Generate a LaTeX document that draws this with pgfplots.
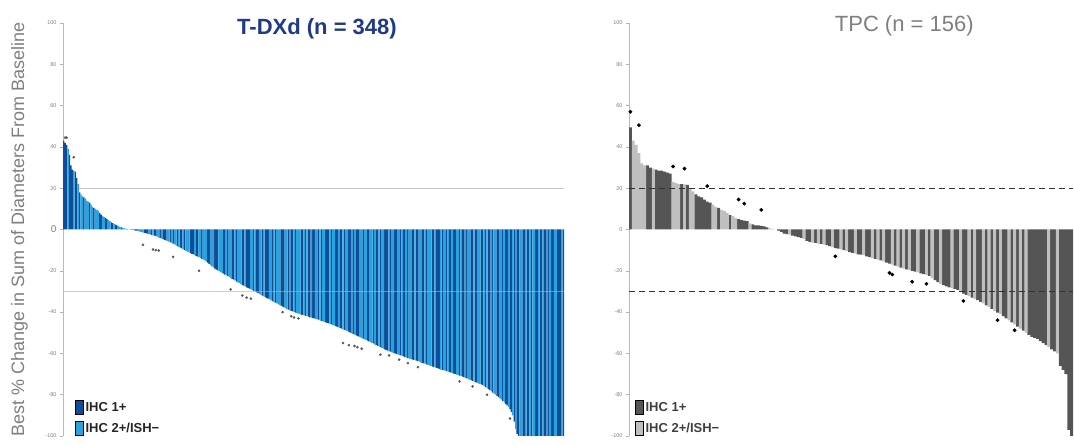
\documentclass[border=0pt]{standalone}
\usepackage{fontspec}
\setmainfont{Liberation Sans}
\usepackage{pgfplots}
\usepackage{pgfplotstable}
\pgfplotsset{compat=1.18}
\definecolor{dkblue}{HTML}{0F4D99}
\definecolor{ltblue}{HTML}{27A4E0}
\definecolor{navy}{HTML}{1F3A87}
\definecolor{dkgray}{HTML}{555555}
\definecolor{ltgray}{HTML}{BFBFBF}
\definecolor{lblgray}{HTML}{7F7F7F}
\pgfplotsset{
  grp1/.style={restrict expr to domain={\thisrow{g}}{0.5:1.5}},
  grp2/.style={restrict expr to domain={\thisrow{g}}{1.5:2.5}},
  wf/.style={
    scale only axis, ymin=-100, ymax=100, ytick={-100,-80,...,100},
    enlargelimits=false, axis y line*=left, axis x line=none, xtick=\empty,
    axis line style={draw=gray!55, line width=0.6pt},
    ytick style={draw=gray!60, line width=0.4pt},
    tick align=outside, major tick length=3pt,
    yticklabel style={font=\fontsize{5.5}{6}\selectfont, text=lblgray},
    /pgf/number format/assume math mode=true,
    legend image code/.code={\fill[##1] (0pt,-7pt) rectangle (8pt,7pt);},
    legend cell align=left,
  }
}
\pgfplotstableread[row sep=\\]{
v g\\
43 1\\ 42 1\\ 41 1\\ 39 2\\ 36 1\\ 31 1\\ 29 1\\ 28.5 2\\ 28 1\\ 25 1\\
22 2\\ 18 1\\ 17 2\\ 16 2\\ 15.5 1\\ 15 2\\ 14 2\\ 13.5 2\\ 13 1\\ 12 2\\
11 2\\ 10.5 1\\ 10 2\\ 9.5 2\\ 9 2\\ 8 1\\ 7.2 1\\ 6.6 2\\ 6 2\\ 5.6 1\\
5 1\\ 4.5 2\\ 4 2\\ 3.5 1\\ 3.1 1\\ 2.7 2\\ 2.3 1\\ 2 1\\ 1.7 2\\ 1.3 2\\
1 1\\ 0.8 2\\ 0.6 2\\ 0.4 2\\ 0.2 1\\ 0.1 2\\ 0 1\\ -0.1 1\\ -0.2 2\\ -0.3 1\\
-0.5 1\\ -0.6 1\\ -0.8 2\\ -1 1\\ -1.2 2\\ -1.4 2\\ -1.6 1\\ -1.8 1\\ -2 1\\ -2.2 2\\
-2.4 2\\ -2.6 1\\ -2.8 2\\ -3 1\\ -3.2 1\\ -3.5 2\\ -3.8 2\\ -4.1 1\\ -4.4 2\\ -4.7 1\\
-5 1\\ -5.3 1\\ -5.6 2\\ -5.9 2\\ -6.2 1\\ -6.4 2\\ -6.8 1\\ -7.2 2\\ -7.6 2\\ -8 1\\
-8.4 2\\ -8.8 1\\ -9.2 1\\ -9.6 2\\ -10 1\\ -10.3 2\\ -10.7 2\\ -11 2\\ -11.4 1\\ -11.8 1\\
-12.1 1\\ -12.4 2\\ -12.8 1\\ -13.1 1\\ -13.4 2\\ -13.8 2\\ -14.2 1\\ -14.6 2\\ -15 2\\ -15.5 2\\
-16 1\\ -16.6 1\\ -17.2 2\\ -17.8 1\\ -18.4 2\\ -19 1\\ -19.4 1\\ -19.8 1\\ -20.2 2\\ -20.6 2\\
-21 2\\ -21.4 1\\ -21.8 1\\ -22.2 2\\ -22.6 1\\ -23 2\\ -23.4 2\\ -23.9 1\\ -24.3 1\\ -24.7 2\\
-25.2 1\\ -25.6 2\\ -26 2\\ -26.4 2\\ -26.8 1\\ -27.2 1\\ -27.6 2\\ -28 1\\ -28.3 1\\ -28.6 1\\
-29 2\\ -29.3 2\\ -29.7 1\\ -30 2\\ -30.4 1\\ -30.8 1\\ -31.2 2\\ -31.6 2\\ -32 1\\ -32.4 2\\
-32.8 1\\ -33.2 1\\ -33.5 1\\ -33.9 2\\ -34.3 2\\ -34.7 1\\ -35 2\\ -35.4 1\\ -35.8 2\\ -36.2 2\\
-36.5 2\\ -36.9 1\\ -37.3 1\\ -37.7 1\\ -38.1 2\\ -38.5 2\\ -38.8 1\\ -39.1 2\\ -39.4 1\\ -39.6 1\\
-39.9 2\\ -40.2 1\\ -40.5 2\\ -40.8 2\\ -41 2\\ -41.2 1\\ -41.4 1\\ -41.6 2\\ -41.8 1\\ -42 2\\
-42.2 1\\ -42.5 1\\ -42.7 2\\ -42.9 1\\ -43.1 1\\ -43.3 2\\ -43.5 2\\ -43.7 1\\ -44 2\\ -44.2 1\\
-44.5 2\\ -44.7 2\\ -45 1\\ -45.2 1\\ -45.5 1\\ -45.7 2\\ -46 1\\ -46.2 2\\ -46.5 2\\ -46.8 1\\
-47.1 1\\ -47.4 2\\ -47.7 1\\ -48 1\\ -48.3 2\\ -48.6 1\\ -48.9 2\\ -49.2 2\\ -49.5 1\\ -49.9 1\\
-50.3 2\\ -50.6 1\\ -50.9 2\\ -51.2 1\\ -51.6 1\\ -51.9 1\\ -52.2 2\\ -52.5 2\\ -52.9 1\\ -53.2 2\\
-53.5 2\\ -53.8 1\\ -54.2 1\\ -54.5 2\\ -54.9 2\\ -55.2 1\\ -55.6 2\\ -55.9 1\\ -56.3 1\\ -56.6 2\\
-57 1\\ -57.3 2\\ -57.7 2\\ -58 1\\ -58.3 1\\ -58.6 1\\ -59 2\\ -59.2 1\\ -59.5 2\\ -59.7 2\\
-60 1\\ -60.2 1\\ -60.5 2\\ -60.7 2\\ -61 1\\ -61.2 2\\ -61.5 1\\ -61.7 1\\ -62 2\\ -62.2 1\\
-62.5 2\\ -62.7 2\\ -62.9 1\\ -63.1 1\\ -63.3 2\\ -63.5 1\\ -63.8 1\\ -64 2\\ -64.3 2\\ -64.6 1\\
-64.8 1\\ -65 2\\ -65.3 1\\ -65.5 2\\ -65.8 2\\ -66 2\\ -66.3 1\\ -66.5 1\\ -66.8 2\\ -67 1\\
-67.3 1\\ -67.5 1\\ -67.8 2\\ -68 1\\ -68.2 2\\ -68.3 2\\ -68.6 1\\ -68.8 2\\ -69.1 1\\ -69.3 1\\
-69.5 2\\ -69.8 1\\ -70 1\\ -70.3 2\\ -70.5 2\\ -70.8 1\\ -71 2\\ -71.3 1\\ -71.5 1\\ -71.8 2\\
-72.1 1\\ -72.4 2\\ -72.7 2\\ -73 1\\ -73.3 1\\ -73.6 2\\ -73.9 1\\ -74.2 1\\ -74.5 2\\ -74.8 2\\
-75 1\\ -75.3 1\\ -75.8 2\\ -76.3 1\\ -76.8 2\\ -77.3 1\\ -77.8 1\\ -78.4 2\\ -79 1\\ -79.5 2\\
-80 2\\ -80.6 1\\ -81.2 1\\ -81.8 2\\ -82.4 2\\ -83 1\\ -83.7 2\\ -84.4 1\\ -85.2 1\\ -86 2\\
-87 1\\ -88.5 1\\ -90 2\\ -93 1\\ -96.5 2\\ -99 1\\ -100 1\\ -100 2\\ -100 2\\ -100 1\\
-100 1\\ -100 2\\ -100 1\\ -100 1\\ -100 2\\ -100 1\\ -100 2\\ -100 2\\ -100 1\\ -100 1\\
-100 2\\ -100 1\\ -100 1\\ -100 2\\ -100 1\\ -100 1\\ -100 2\\ -100 1\\ -100 2\\ -100 1\\
-100 1\\ -100 2\\ -100 2\\ -100 1\\ -100 1\\ -100 1\\ -100 2\\ -100 1\\
}\tdxd
\pgfplotstableread[row sep=\\]{
v g\\
49.5 1\\ 43 2\\ 41 2\\ 37 2\\ 32 2\\ 31 2\\ 31 1\\ 30 1\\ 29.5 2\\ 29 1\\
28.5 1\\ 28.5 1\\ 28 1\\ 27.5 1\\ 27 1\\ 23 2\\ 22.5 2\\ 22 2\\ 22 1\\ 21.8 2\\
21.6 1\\ 19.5 2\\ 18.5 2\\ 17 1\\ 16 1\\ 15.5 1\\ 14.5 1\\ 13.5 1\\ 13 1\\ 12 2\\
11 2\\ 10.5 1\\ 9.5 2\\ 9 2\\ 8 2\\ 7 1\\ 6.5 2\\ 5.5 2\\ 5 1\\ 4.5 1\\
4.3 1\\ 4 1\\ 3 2\\ 2.5 1\\ 2 1\\ 2 1\\ 1.8 1\\ 1.5 1\\ 1 1\\ 0.5 2\\
0.3 2\\ 0 2\\ -0.5 1\\ -1.2 1\\ -2 1\\ -2.2 1\\ -2.5 2\\ -3 1\\ -3.3 1\\ -3.7 1\\
-4 1\\ -4.5 2\\ -5.5 1\\ -6 1\\ -6.3 2\\ -6.5 1\\ -6.8 2\\ -7 1\\ -7.3 2\\ -7.6 1\\
-8 1\\ -8.5 2\\ -9 1\\ -9.3 1\\ -9.6 2\\ -10 1\\ -10.5 2\\ -11 1\\ -11.3 1\\ -11.6 2\\
-12 1\\ -12.2 1\\ -12.4 2\\ -13 1\\ -13.4 1\\ -13.8 2\\ -14.2 1\\ -14.6 2\\ -15 1\\ -15.5 2\\
-16 1\\ -16.5 1\\ -17 2\\ -17.5 1\\ -18 2\\ -18.5 1\\ -19 2\\ -19.3 1\\ -19.7 2\\ -20 1\\
-20.4 1\\ -20.8 2\\ -21.2 1\\ -21.6 1\\ -22 2\\ -22.5 1\\ -23.5 2\\ -24.5 1\\ -25.5 1\\ -26.3 2\\
-27 1\\ -27.5 1\\ -28 1\\ -28.4 2\\ -28.8 1\\ -29.2 1\\ -30 2\\ -31 1\\ -31.7 1\\ -32.3 2\\
-33 1\\ -33.6 2\\ -34.2 1\\ -35 1\\ -35.8 2\\ -36.7 1\\ -37.6 2\\ -38.5 1\\ -39.4 2\\ -40.2 1\\
-41 2\\ -42 1\\ -43 1\\ -44 2\\ -45 1\\ -46 2\\ -47 1\\ -48 2\\ -49 1\\ -50 2\\
-51 1\\ -52 1\\ -52.5 1\\ -53 1\\ -54 1\\ -55 1\\ -56 1\\ -57 2\\ -58 1\\ -59 1\\
-60 2\\ -66 1\\ -68 1\\ -70 1\\ -97 1\\ -100 1\\
}\tpc
\pgfplotstableread[row sep=\\]{
x y\\
1 44.5\\ 2 44.5\\ 7 35\\ 55 -7.4\\ 62 -9.7\\ 64 -10\\ 66 -10.2\\ 76 -13.3\\ 94 -20\\
116 -29\\ 124 -32\\ 127 -33\\ 130 -33.5\\ 152 -40\\ 158 -42\\ 160 -42.6\\ 163 -43\\
194 -55\\ 198 -56\\ 202 -56.4\\ 204 -57\\ 207 -57.7\\ 220 -60.6\\ 226 -61\\ 233 -63\\
239 -64.7\\ 246 -66.7\\ 275 -73.6\\ 284 -76\\ 294 -80\\ 310 -91.5\\
}\tdxdmk
\pgfplotstableread[row sep=\\]{
x y\\
0 57\\ 3 50.5\\ 15 30.5\\ 19 29.5\\ 27 21\\ 38 14.5\\ 40 12.5\\ 46 9.5\\
72 -13\\ 91 -21\\ 92 -21.8\\ 99 -25.3\\ 104 -26.3\\ 117 -34.6\\ 129 -43.9\\ 135 -48.8\\
}\tpcmk
\begin{document}
\begin{tikzpicture}
\useasboundingbox (0,0) rectangle (1074pt,446pt);
% ---------------- T-DXd ----------------
\begin{axis}[wf,
  at={(63pt,10pt)}, anchor=south west, width=501pt, height=413pt,
  xmin=-0.5, xmax=347.5,
  yticklabels={-100,-80,-60,-40,-20,{\fontsize{10}{10}\selectfont 0},20,40,60,80,100},
  ylabel={Best \% Change in Sum of Diameters From Baseline},
  ylabel style={at={(axis description cs:-0.087,0.5)}, anchor=center,
    font=\fontsize{18}{18}\selectfont, text=lblgray},
  title={T-DXd (n = 348)},
  title style={at={(axis description cs:0.507,0.972)}, anchor=center,
    font=\fontsize{22}{24}\selectfont\bfseries, text=navy},
  legend style={at={(axis description cs:0.024,0.0)}, anchor=south west,
    draw=none, fill=none, inner sep=0pt, row sep=6pt,
    font=\fontsize{13}{14}\selectfont\bfseries, text=black!85},
]
\addplot[draw=gray!45, line width=0.6pt, forget plot] coordinates {(-0.5,20) (347.5,20)};
\addplot[ybar, bar width=1, bar shift=0pt, fill=dkblue, draw=none,
  forget plot, grp1] table[x expr=\coordindex, y=v] {\tdxd};
\addplot[ybar, bar width=1, bar shift=0pt, fill=ltblue, draw=none,
  forget plot, grp2] table[x expr=\coordindex, y=v] {\tdxd};
\addplot[draw=gray!60, line width=0.6pt, opacity=0.6, forget plot] coordinates {(-0.5,-30) (347.5,-30)};
\addplot[only marks, mark=*, mark size=1.1pt, draw=black!65, fill=black!65, forget plot]
  table[x=x, y=y] {\tdxdmk};
\addlegendimage{fill=dkblue}
\addlegendentry{IHC 1+}
\addlegendimage{fill=ltblue}
\addlegendentry{IHC 2+/ISH\textminus}
\end{axis}
% ---------------- TPC ----------------
\begin{axis}[wf,
  at={(629pt,10pt)}, anchor=south west, width=444pt, height=413pt,
  xmin=-0.5, xmax=155.5,
  yticklabels={-100,-80,-60,-40,-20,0,20,40,60,80,100},
  title={TPC (n = 156)},
  title style={at={(axis description cs:0.62,0.978)}, anchor=center,
    font=\fontsize{22}{24}\selectfont, text=lblgray},
  legend style={at={(axis description cs:0.0135,0.0)}, anchor=south west,
    draw=none, fill=none, inner sep=0pt, row sep=6pt,
    font=\fontsize{13}{14}\selectfont\bfseries, text=black!75},
]
\addplot[ybar, bar width=1, bar shift=0pt, fill=dkgray, draw=none,
  forget plot, grp1] table[x expr=\coordindex, y=v] {\tpc};
\addplot[ybar, bar width=1, bar shift=0pt, fill=ltgray, draw=none,
  forget plot, grp2] table[x expr=\coordindex, y=v] {\tpc};
\addplot[draw=black!80, line width=0.9pt, dash pattern=on 6pt off 4pt, forget plot]
  coordinates {(-0.5,20) (155.5,20)};
\addplot[draw=black!80, line width=0.9pt, dash pattern=on 6pt off 4pt, forget plot]
  coordinates {(-0.5,-30) (155.5,-30)};
\addplot[only marks, mark=*, mark size=1.7pt, draw=black, fill=black, forget plot]
  table[x=x, y=y] {\tpcmk};
\addlegendimage{fill=dkgray}
\addlegendentry{IHC 1+}
\addlegendimage{fill=ltgray}
\addlegendentry{IHC 2+/ISH\textminus}
\end{axis}
\end{tikzpicture}
\end{document}
